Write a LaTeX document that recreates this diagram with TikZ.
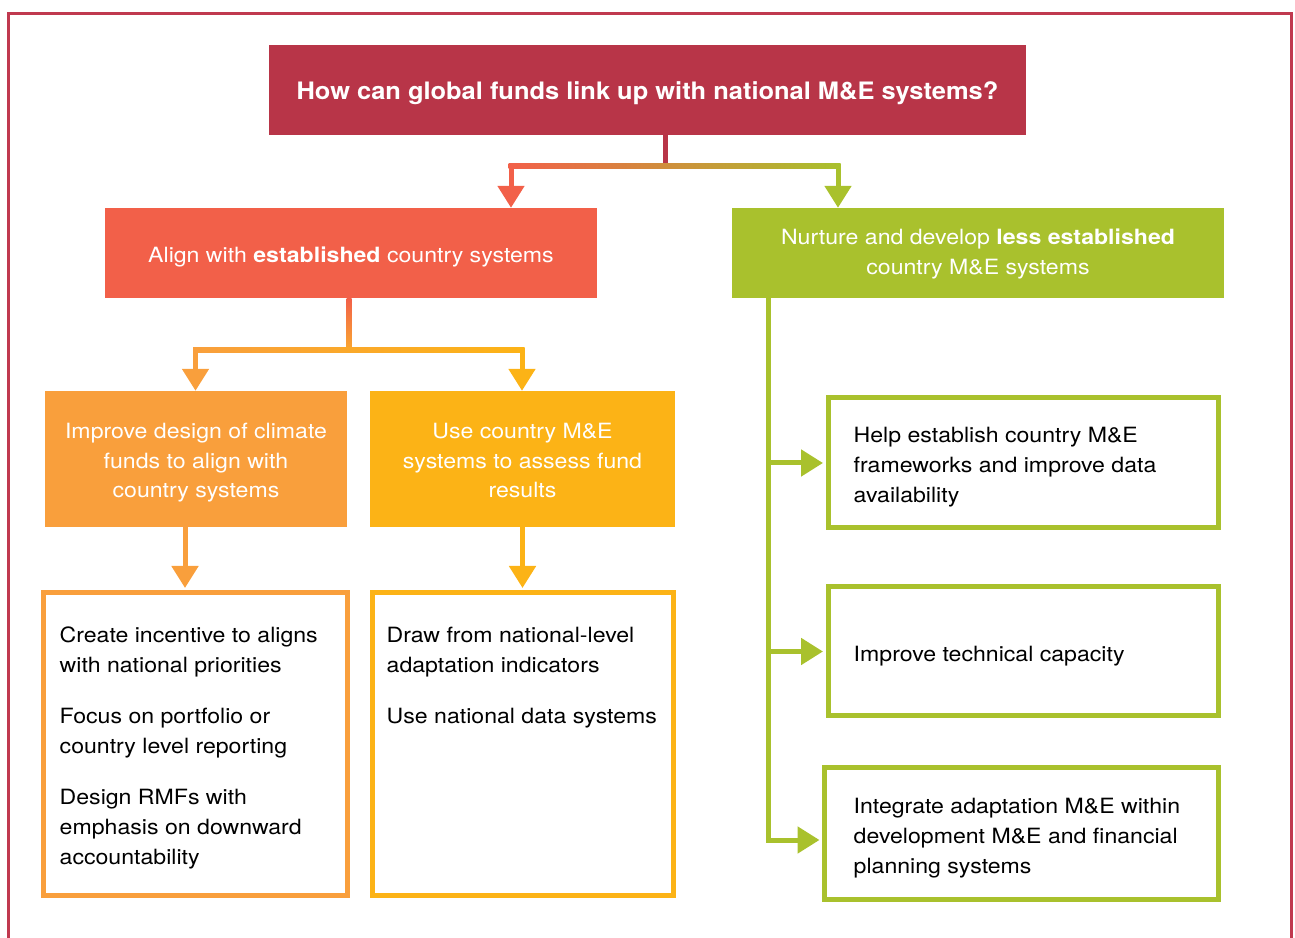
\documentclass[tikz,border=0pt]{standalone}
\usepackage{fontspec}
\setmainfont{TeX Gyre Heros}[FakeStretch=1.1]
\newfontfamily\titlefont{TeX Gyre Heros}[FakeStretch=1.06]
\usetikzlibrary{arrows.meta,calc}
\definecolor{cTitle}{HTML}{B83548}
\definecolor{cFrame}{HTML}{C0394F}
\definecolor{cAlign}{HTML}{F26049}
\definecolor{cGreen}{HTML}{A9C12D}
\definecolor{cOrange}{HTML}{F99F3C}
\definecolor{cYellow}{HTML}{FCB316}
\definecolor{cMidO}{HTML}{FAA830}
\begin{document}
\begin{tikzpicture}[x=1pt,y=1pt,
  fillbox/.style={rectangle, inner sep=0pt},
  filltext/.style={inner sep=0pt, text=white, align=center, font=\fontsize{21}{29.5}\selectfont},
  outbox/.style={rectangle, draw, line width=5pt, inner sep=0pt},
  boxtext/.style={inner sep=0pt, align=left, text=black, font=\fontsize{21}{30}\selectfont},
  conn/.style={line width=5pt},
  tip/.style={-{Triangle[width=26pt,length=22pt]}},
]
\useasboundingbox (0,0) rectangle (1295,937);
\draw[cFrame, line width=2.5pt] (8.7,-2) -- (8.7,923.5) -- (1291.3,923.5) -- (1291.3,-2);

% filled boxes
\node[fillbox, fill=cTitle, minimum width=757pt, minimum height=90pt] (q) at (647.5,847) {};
\node[filltext, font=\titlefont\bfseries\fontsize{24}{29}\selectfont] (qt) at ($(q)+(0,-3)$)
      {How can global funds link up with national M\&E systems?};
\node[fillbox, fill=cAlign, minimum width=492pt, minimum height=90pt] (A) at (351,684) {};
\node[filltext] (At) at ($(A)+(0,-4)$) {Align with \textbf{established} country systems};
\node[fillbox, fill=cGreen, minimum width=492pt, minimum height=90pt] (N) at (978,684) {};
\node[filltext] (Nt) at ($(N)+(0,-1)$) {Nurture and develop \textbf{less established}\\country M\&E systems};
\node[fillbox, fill=cOrange, minimum width=302pt, minimum height=136pt] (I) at (196,478) {};
\node[filltext] (It) at ($(I)+(0,-4)$) {Improve design of climate\\funds to align with\\country systems};
\node[fillbox, fill=cYellow, minimum width=305pt, minimum height=136pt] (U) at (522.5,478) {};
\node[filltext] (Ut) at ($(U)+(0,-2)$) {Use country M\&E\\systems to assess fund\\results};

% outline boxes
\node[outbox, draw=cOrange, minimum width=304.5pt, minimum height=302.5pt] (L1) at (195.25,192.75) {};
\node[outbox, draw=cYellow, minimum width=301pt, minimum height=302.5pt] (L2) at (523,192.75) {};
\node[outbox, draw=cGreen, minimum width=390pt, minimum height=130pt] (G1) at (1023,474) {};
\node[outbox, draw=cGreen, minimum width=390pt, minimum height=129pt] (G2) at (1023,285.5) {};
\node[outbox, draw=cGreen, minimum width=393.5pt, minimum height=132pt] (G3) at (1021.25,103.5) {};

\node[boxtext, anchor=west] (L1t) at ($(L1.west)+(19,-3.5)$)
  {Create incentive to aligns\\with national priorities\\[21pt]Focus on portfolio or\\country level reporting\\[21pt]Design RMFs with\\emphasis on downward\\accountability};
\node[boxtext, anchor=north west] (L2t) at ($(L2.north west)+(16.5,-36)$)
  {Draw from national-level\\adaptation indicators\\[21pt]Use national data systems};
\node[boxtext, anchor=west] (G1t) at ($(G1.west)+(28,-4)$)
  {Help establish country M\&E\\frameworks and improve data\\availability};
\node[boxtext, anchor=west] (G2t) at ($(G2.west)+(28,-4.5)$)
  {Improve technical capacity};
\node[boxtext, anchor=west] (G3t) at ($(G3.west)+(31.5,-4.5)$)
  {Integrate adaptation M\&E within\\development M\&E and financial\\planning systems};

% top connector
\coordinate (tj) at (665,771);
\coordinate (tl) at (511,771);
\coordinate (tr) at (838,771);
\draw[conn, cTitle] (tj |- q.south) -- (tj);
\shade[left color=cAlign, middle color=cTitle, right color=cGreen]
  ($(tl)+(-2.5,-2.5)$) rectangle ($(tr)+(2.5,2.5)$);
\draw[conn, cAlign, tip] ($(tl)+(0,-2.4)$) -- (tl |- A.north);
\draw[conn, cGreen, tip] ($(tr)+(0,-2.4)$) -- (tr |- A.north);

% left connector
\coordinate (aj) at (349,587);
\coordinate (al) at (195.5,587);
\coordinate (ar) at (522,587);
\shade[top color=cAlign, bottom color=cMidO]
  ($(A.south -| aj)+(-2.5,0)$) rectangle ($(aj)+(2.5,0)$);
\shade[left color=cOrange, right color=cYellow]
  ($(al)+(-2.5,-2.5)$) rectangle ($(ar)+(2.5,2.5)$);
\draw[conn, cOrange, tip] ($(al)+(0,-2.4)$) -- (al |- I.north);
\draw[conn, cYellow, tip] ($(ar)+(0,-2.4)$) -- (ar |- U.north);

% down arrows
\draw[conn, cOrange, tip] ($(I.south)+(-11,0)$) -- ($(L1.north)+(-10.25,2.5)$);
\draw[conn, cYellow, tip] (U.south) -- ($(U.south |- L2.north)+(0,2.5)$);

% green connector
\coordinate (gb) at (768,97);
\draw[conn, cGreen, tip] (N.south -| gb) -- (gb) -- ($(gb -| G3.west)+(-2.5,0)$);
\draw[conn, cGreen, tip] (G1.west -| gb) -- ($(G1.west)+(-2.5,0)$);
\draw[conn, cGreen, tip] (G2.west -| gb) -- ($(G2.west)+(-2.5,0)$);
\end{tikzpicture}
\end{document}
